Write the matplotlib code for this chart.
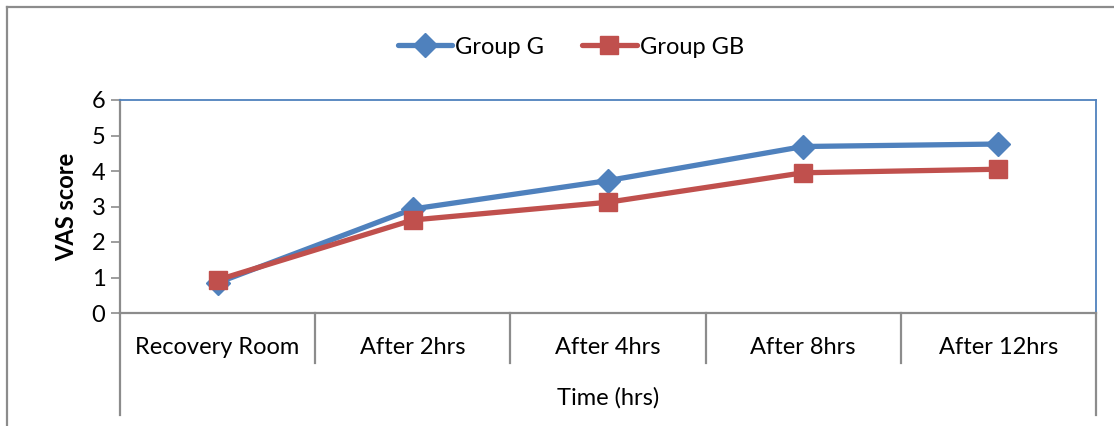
import matplotlib.pyplot as plt
from matplotlib.lines import Line2D

# Data
categories = ['Recovery Room', 'After 2hrs', 'After 4hrs', 'After 8hrs', 'After 12hrs']
group_g = [0.85, 2.93, 3.73, 4.69, 4.76]
group_gb = [0.93, 2.62, 3.12, 3.95, 4.05]
y_ticks = [0, 1, 2, 3, 4, 5, 6]

BLUE = '#4F81BD'
RED = '#C0504D'
GREY = '#8C8C8C'
FS = 17

plt.rcParams['font.family'] = ['Lato', 'DejaVu Sans']

fig = plt.figure(figsize=(11.14, 4.26), dpi=100)
ax = fig.add_axes([120 / 1114, 1 - 313 / 426, 976 / 1114, 213 / 426])

x = list(range(len(categories)))
ax.plot(x, group_g, color=BLUE, lw=3.8, marker='D', ms=12,
        label='Group G', solid_capstyle='round')
ax.plot(x, group_gb, color=RED, lw=3.8, marker='s', ms=13,
        label='Group GB', solid_capstyle='round')

ax.set_xlim(-0.5, len(categories) - 0.5)
ax.set_ylim(0, 6)
ax.set_yticks(y_ticks)
ax.set_xticks([])
ax.tick_params(axis='y', direction='out', length=6.5, width=1.2, color=GREY,
               labelsize=FS, pad=4)

for side in ['top', 'right']:
    ax.spines[side].set_color(BLUE)
    ax.spines[side].set_linewidth(1.3)
for side in ['left', 'bottom']:
    ax.spines[side].set_color(GREY)
    ax.spines[side].set_linewidth(1.6)

ax.set_ylabel('VAS score', fontsize=FS, fontweight='bold', labelpad=10)

# category boxes below the plot
trans = ax.get_xaxis_transform()
for i in range(1, len(categories)):
    ax.plot([i - 0.5, i - 0.5], [0, -0.235], color=GREY, lw=1.6,
            transform=trans, clip_on=False)
for xe in [-0.5, len(categories) - 0.5]:
    ax.plot([xe, xe], [0, -0.48], color=GREY, lw=1.6,
            transform=trans, clip_on=False)
for i, cat in enumerate(categories):
    ax.text(i, -0.16, cat, transform=trans, ha='center', va='center',
            fontsize=FS)
ax.text(0.5, -0.40, 'Time (hrs)', transform=ax.transAxes, ha='center',
        va='center', fontsize=FS)

leg = ax.legend(loc='center', bbox_to_anchor=(0.462, 1 + 53 / 213), ncol=2,
                frameon=False, fontsize=FS, handlelength=2.3,
                handletextpad=0.15, columnspacing=1.6)

# outer chart frame (top and left edges visible)
fig.add_artist(Line2D([7 / 1114, 1], [1 - 7 / 426, 1 - 7 / 426],
                      color=GREY, lw=1.6, transform=fig.transFigure))
fig.add_artist(Line2D([7 / 1114, 7 / 1114], [0, 1 - 7 / 426],
                      color=GREY, lw=1.6, transform=fig.transFigure))

fig.savefig('out.png', dpi=100)
